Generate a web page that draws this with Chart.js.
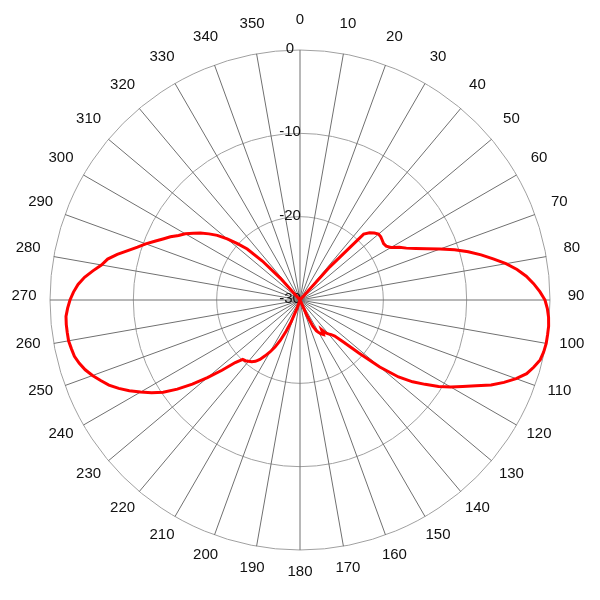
<!DOCTYPE html>
<html>
<head>
<meta charset="utf-8">
<script src="https://cdn.jsdelivr.net/npm/chart.js@4"></script>
<style>
  html, body { margin: 0; padding: 0; background: #fff; }
  #wrap { width: 600px; height: 600px; }
</style>
</head>
<body>
<div id="wrap"><canvas id="pattern"></canvas></div>
<script>
// azimuth in degrees, 2 degree steps
const angles = [
  0, 2, 4, 6, 8, 10, 12, 14, 16, 18, 20, 22, 24, 26, 28, 30, 32, 34, 36, 38,
  40, 42, 44, 46, 48, 50, 52, 54, 56, 58, 60, 62, 64, 66, 68, 70, 72, 74, 76, 78,
  80, 82, 84, 86, 88, 90, 92, 94, 96, 98, 100, 102, 104, 106, 108, 110, 112, 114, 116, 118,
  120, 122, 124, 126, 128, 130, 132, 134, 136, 138, 140, 142, 144, 146, 148, 150, 152, 154, 156, 158,
  160, 162, 164, 166, 168, 170, 172, 174, 176, 178, 180, 182, 184, 186, 188, 190, 192, 194, 196, 198,
  200, 202, 204, 206, 208, 210, 212, 214, 216, 218, 220, 222, 224, 226, 228, 230, 232, 234, 236, 238,
  240, 242, 244, 246, 248, 250, 252, 254, 256, 258, 260, 262, 264, 266, 268, 270, 272, 274, 276, 278,
  280, 282, 284, 286, 288, 290, 292, 294, 296, 298, 300, 302, 304, 306, 308, 310, 312, 314, 316, 318,
  320, 322, 324, 326, 328, 330, 332, 334, 336, 338, 340, 342, 344, 346, 348, 350, 352, 354, 356, 358,
]

// relative gain in dB (values below -30 sit at the centre)
const gain = [
  -30, -30, -30, -30, -30, -30, -30, -30, -30, -30, -30, -30, -30, -30, -30, -30, -30, -30, -30, -30,
  -30, -24.6, -19.0, -18.4, -18.0, -17.7, -17.7, -17.8, -17.9, -17.8, -17.4, -16.5, -15.8, -14.8, -13.6, -12.1, -10.5, -9.0, -7.6, -6.3,
  -4.9, -3.7, -2.7, -1.9, -1.2, -0.6, -0.3, -0.1, 0, 0, 0, -0.1, -0.3, -0.8, -1.4, -2.4, -3.6, -4.9, -6.5, -7.9,
  -9.1, -10.4, -11.9, -13.3, -15.0, -17.5, -20.5, -22.7, -24.0, -24.4, -24.7, -25.0, -25.6, -25.0, -25.2, -25.5, -25.8, -26.5, -28.0, -30,
  -30, -30, -30, -30, -30, -30, -30, -30, -30, -30, -30, -30, -30, -30, -30, -30, -30, -30, -30, -30,
  -28.8, -27.2, -25.9, -24.6, -23.6, -22.8, -22.1, -21.4, -20.9, -20.6, -20.4, -20.2, -20.1, -19.2, -17.4, -15.5, -13.6, -11.8, -10.2, -9.0,
  -7.9, -6.8, -5.8, -4.9, -4.2, -3.5, -2.9, -2.45, -2.1, -1.95, -1.8, -1.8, -1.8, -1.85, -2.1, -2.4, -2.8, -3.3, -4.0, -4.9,
  -5.8, -6.4, -7.4, -8.5, -9.5, -10.3, -11.2, -12.0, -12.7, -13.5, -14.1, -14.9, -15.6, -16.5, -17.4, -18.6, -19.9, -21.2, -23.5, -26.5,
  -30, -30, -30, -30, -30, -30, -30, -30, -30, -30, -30, -30, -30, -30, -30, -30, -30, -30, -30, -30,
]

const ringTicks = [-30, -20, -10, 0]

const labelFont = "15px Arial, 'Liberation Sans', sans-serif"

// angle labels centred on a ring outside the plot, ring values left of the 0 spoke
const polarLabels = {
  id: "polarLabels",
  beforeDatasetsDraw(chart) {
    const scale = chart.scales.r
    const ctx = chart.ctx
    ctx.save()
    ctx.fillStyle = "#111"
    ctx.font = labelFont
    ctx.textAlign = "center"
    ctx.textBaseline = "middle"
    angles.forEach((a, i) => {
      if (a % 10 !== 0) return
      const p = scale.getPointPosition(i, scale.drawingArea + 26)
      ctx.fillText(String(a), p.x, p.y - 4)
    })
    ringTicks.forEach((v) => {
      const y = scale.yCenter - scale.getDistanceFromCenterForValue(v)
      ctx.fillText(String(v), scale.xCenter - 10, y - 1)
    })
    ctx.restore()
  },
}

new Chart(document.getElementById("pattern"), {
  type: "radar",
  data: {
    labels: angles,
    datasets: [
      {
        data: gain,
        borderColor: "#ff0000",
        borderWidth: 3,
        fill: false,
        tension: 0,
        pointRadius: 0,
        pointHoverRadius: 0,
      },
    ],
  },
  options: {
    responsive: true,
    maintainAspectRatio: false,
    animation: false,
    layout: { padding: 50 },
    plugins: {
      legend: { display: false },
      tooltip: { enabled: false },
    },
    scales: {
      r: {
        min: ringTicks[0],
        max: ringTicks[ringTicks.length - 1],
        ticks: { stepSize: 10, display: false },
        grid: { circular: true, color: "#a0a0a0", lineWidth: 1 },
        angleLines: {
          display: true,
          color: "#707070",
          lineWidth: (ctx) => (angles[ctx.index] % 10 === 0 ? 1 : 0),
        },
        pointLabels: { display: false },
      },
    },
  },
  plugins: [polarLabels],
})
</script>
</body>
</html>
